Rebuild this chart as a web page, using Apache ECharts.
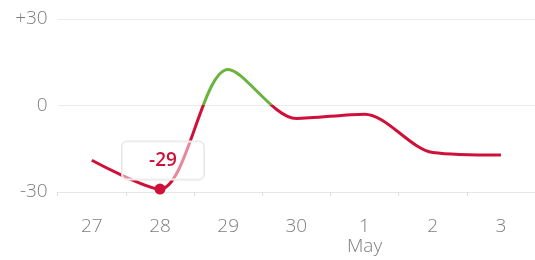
<!DOCTYPE html>
<html>
<head>
<meta charset="utf-8">
<script src="https://cdn.jsdelivr.net/npm/echarts@6/dist/echarts.min.js"></script>
<style>html,body{margin:0;padding:0;background:#fff}#c{width:535px;height:260px}</style>
</head>
<body>
<div id="c"></div>
<script>
const categories = ['27', '28', '29', '30', '1\nMay', '2', '3'];
const values = [-19, -29, 12.5, -4.5, -3, -16.3, -17.2];
const highlightIndex = 1;
const yTicks = { min: -30, max: 30, interval: 30 };

const RED = '#cf1039';
const GREEN = '#6ab43c';
const FONT = 'Open Sans';

const seriesData = values.map((v, i) => i === highlightIndex ? {
  value: v,
  symbol: 'circle',
  symbolSize: 11,
  itemStyle: { color: RED },
  label: {
    show: true,
    position: 'top',
    distance: 4,
    offset: [3, 0],
    formatter: '{c}',
    color: RED,
    fontWeight: 600,
    fontSize: 19,
    fontFamily: FONT,
    lineHeight: 20,
    padding: [9, 27],
    backgroundColor: 'rgba(255,255,255,0.5)',
    borderColor: '#e6e6e6',
    borderWidth: 1,
    borderRadius: 5
  }
} : { value: v, symbol: 'none' });

const chart = echarts.init(document.getElementById('c'), null, { renderer: 'canvas' });
const H = 260;
chart.setOption({
  animation: false,
  grid: { left: 57.7, right: -3.3, top: 19, bottom: 68, containLabel: false },
  xAxis: {
    type: 'category',
    data: categories,
    boundaryGap: true,
    axisLine: { show: true, onZero: false, lineStyle: { color: '#e6e6e6', width: 1 } },
    axisTick: { show: true, length: 4, lineStyle: { color: '#dcdcdc' } },
    axisLabel: { color: '#7d7d7d', fontSize: 19, fontWeight: 300, fontFamily: FONT, margin: 25, lineHeight: 20 }
  },
  yAxis: {
    type: 'value',
    min: yTicks.min,
    max: yTicks.max,
    interval: yTicks.interval,
    axisLine: { show: false },
    axisTick: { show: false },
    splitLine: { show: true, lineStyle: { color: '#ececec', width: 1 } },
    axisLabel: {
      color: '#7d7d7d', fontSize: 19, fontWeight: 300, fontFamily: FONT, margin: 10,
      formatter: v => v > 0 ? '+' + v : String(v)
    }
  },
  series: [{
    type: 'line',
    smooth: 0.3,
    showSymbol: true,
    symbol: 'none',
    lineStyle: { width: 3, color: RED },
    data: seriesData
  }]
});

// split colour at value 0 using the axis scale
const zeroY = chart.convertToPixel({ yAxisIndex: 0 }, 0);
const off = Math.min(1, Math.max(0, zeroY / H));
chart.setOption({
  series: [{
    lineStyle: {
      color: {
        type: 'linear', x: 0, y: 0, x2: 0, y2: H, global: true,
        colorStops: [
          { offset: 0, color: GREEN },
          { offset: off, color: GREEN },
          { offset: off, color: RED },
          { offset: 1, color: RED }
        ]
      }
    }
  }]
});
</script>
</body>
</html>
